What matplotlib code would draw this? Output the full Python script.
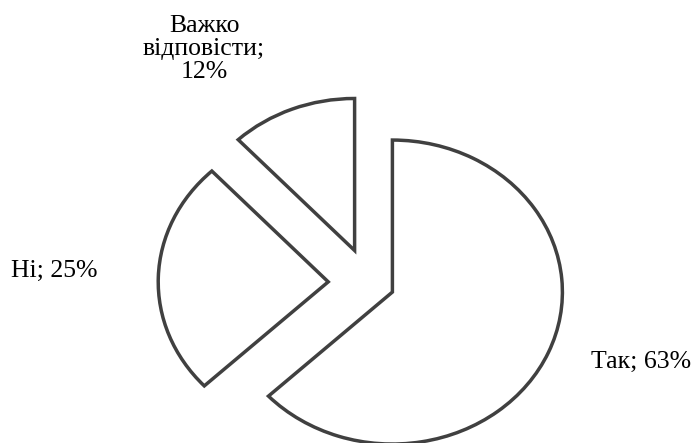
import matplotlib.pyplot as plt

# answers and their shares, %
categories = ['Так', 'Ні', 'Важко\nвідповісти']
shares = [63, 25, 12]

# how far each slice is pulled out of the pie
explode = [0.15, 0.24, 0.23]

# where each "category; share" label sits (axes fraction)
label_pos = [(0.9236, 0.183), (0.0775, 0.388), (0.294, 0.889)]

plt.rcParams['font.family'] = ['Liberation Serif', 'DejaVu Serif']

fig = plt.figure(figsize=(6.94, 4.43), dpi=100)
ax = fig.add_axes([0, 0, 1, 1])

wedges, _ = ax.pie(shares, explode=explode, startangle=90, counterclock=False,
                   wedgeprops=dict(facecolor='white', edgecolor='#404040',
                                   linewidth=2.5, joinstyle='miter'))

# the pie is drawn a bit wider than tall
ax.set_aspect('auto')
ax.set_xlim(-369 / 170, (694 - 369) / 170)
ax.set_ylim(-(443 - 283) / 152, 283 / 152)
ax.axis('off')

for cat, val, (x, y) in zip(categories, shares, label_pos):
    ax.text(x, y, f'{cat}; {val}%' if '\n' not in cat else f'{cat};\n{val}%',
            transform=ax.transAxes, ha='center', va='center',
            multialignment='center', fontsize=18.5, linespacing=1.05)

fig.savefig('out.png', dpi=100)
